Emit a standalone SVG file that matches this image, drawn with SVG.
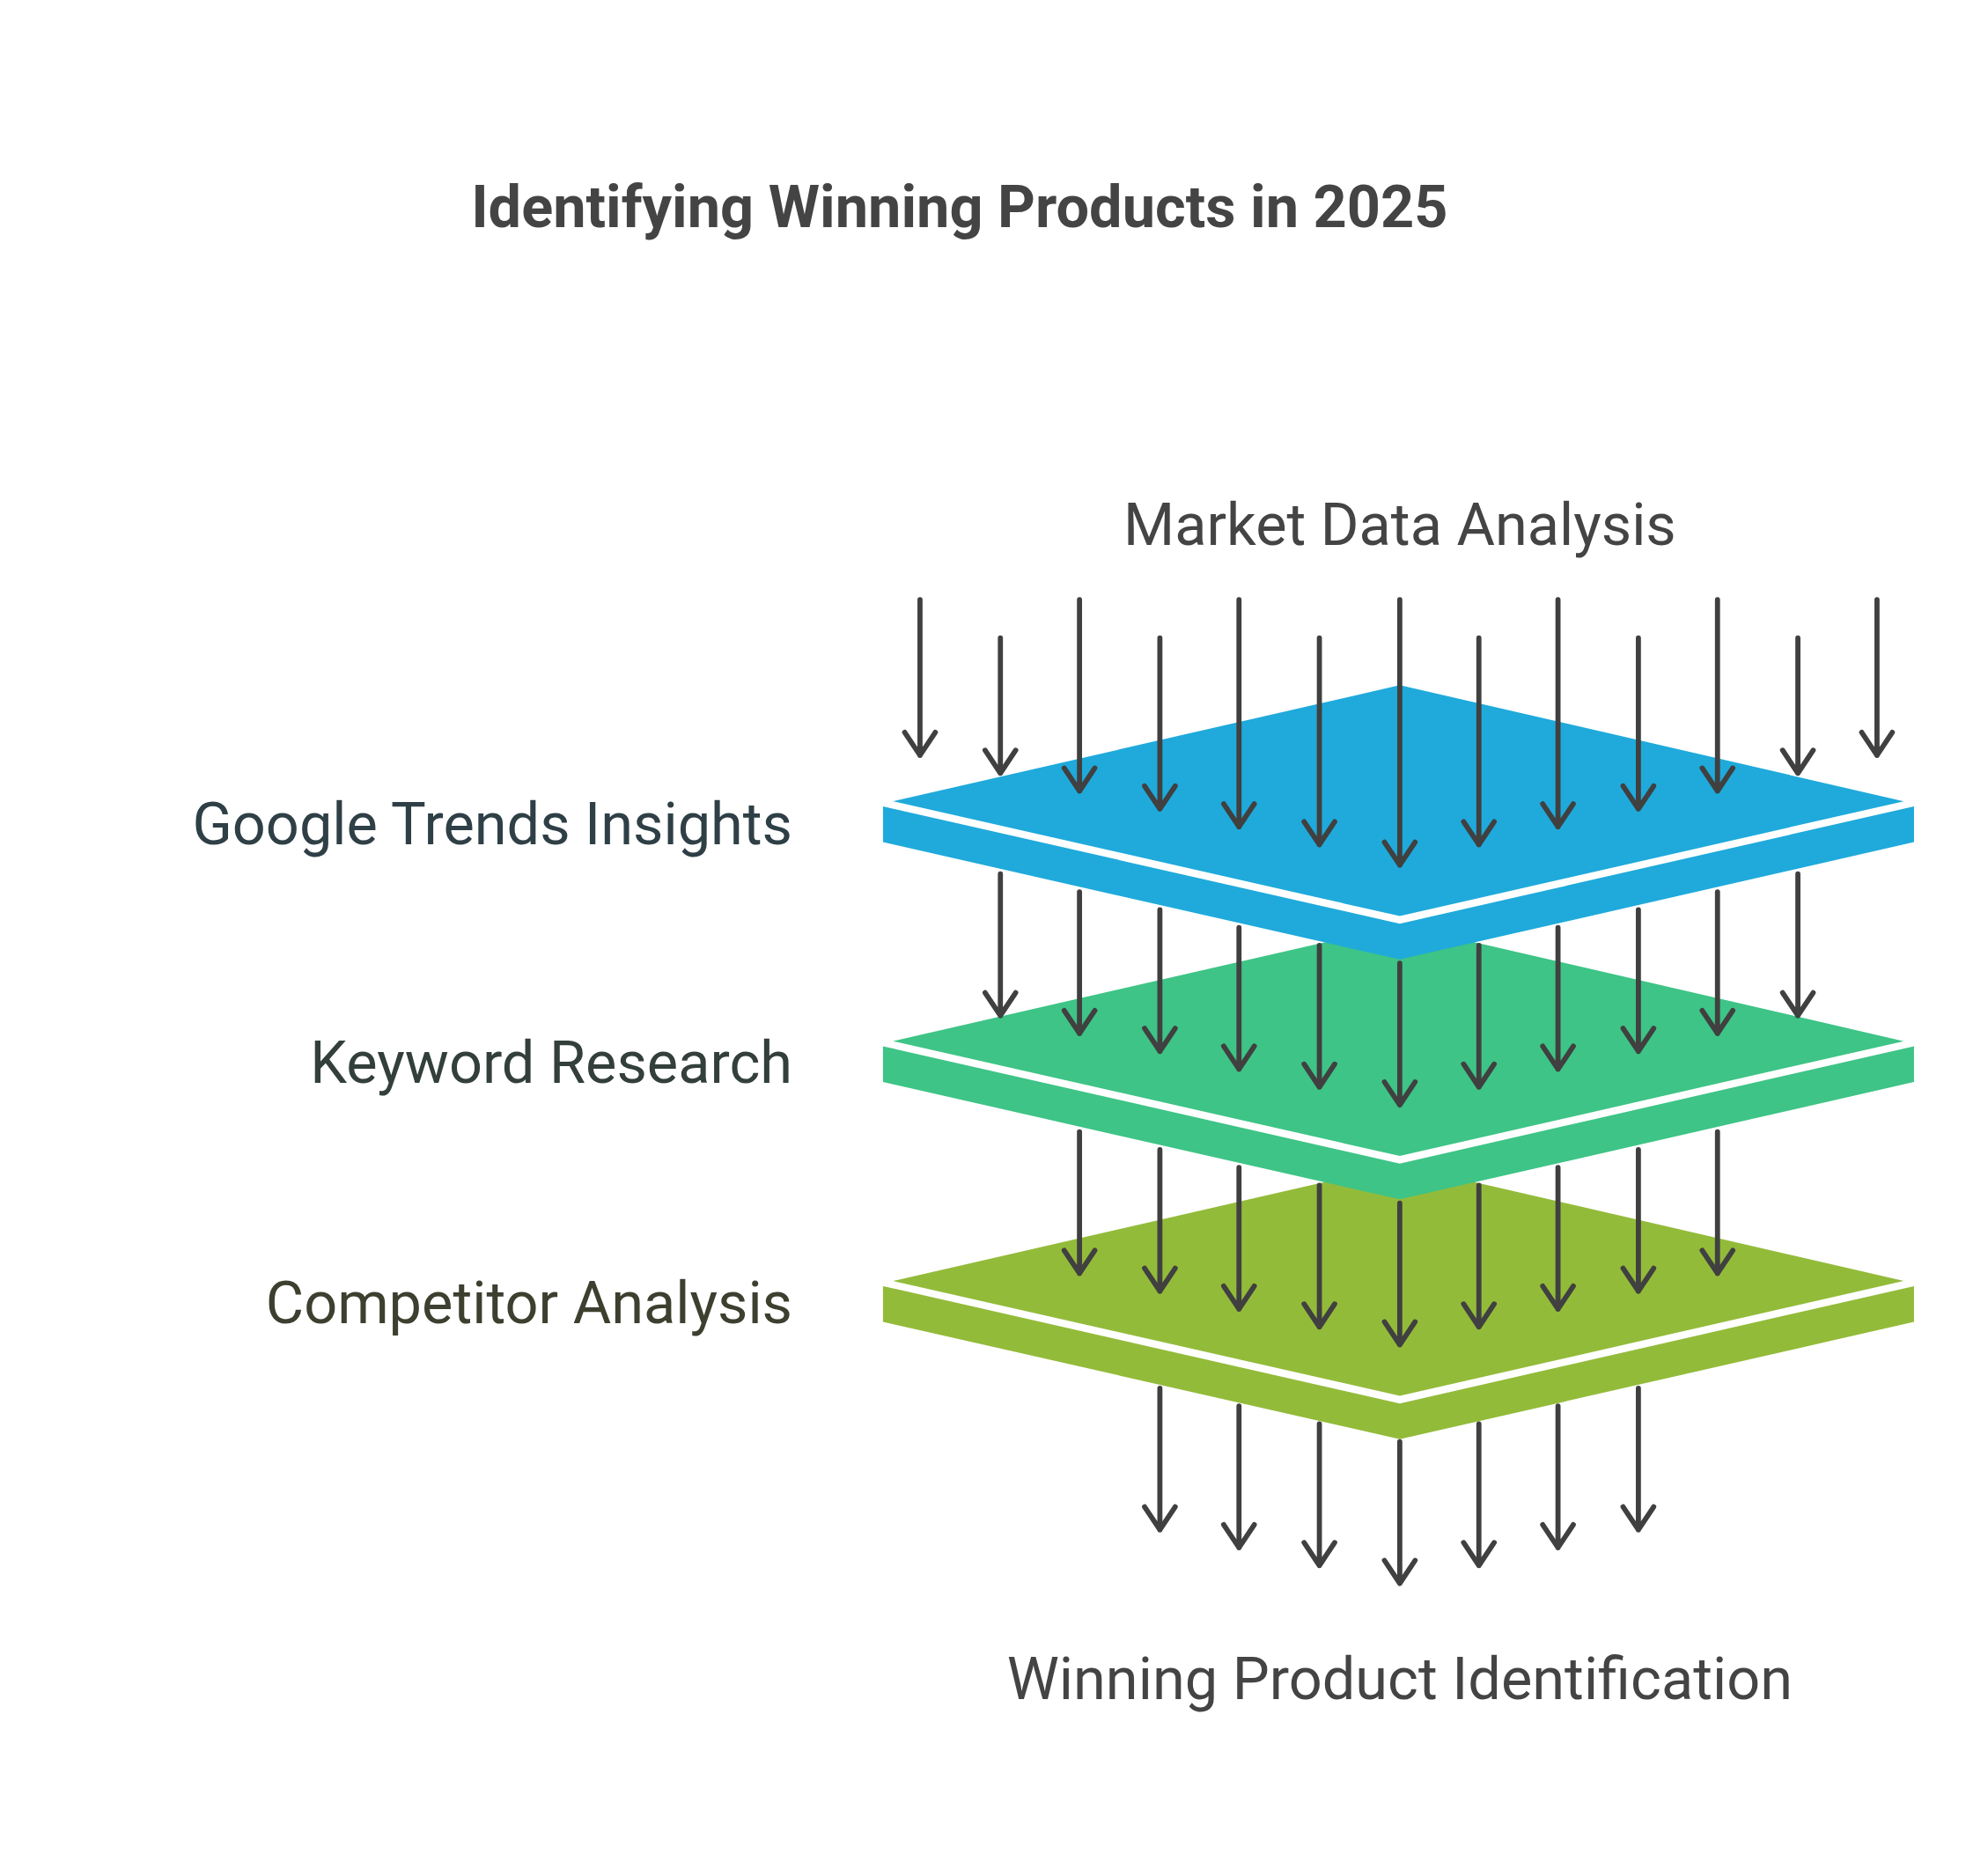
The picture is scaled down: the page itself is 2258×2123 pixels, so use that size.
<svg xmlns="http://www.w3.org/2000/svg" width="2258" height="2123" viewBox="0 0 2258 2123">
<defs>
<style>
.t{font-family:Roboto,"Liberation Sans",sans-serif;font-size:46px;fill:#444}
.a{stroke:#404040;stroke-width:4;fill:none;stroke-linecap:round;stroke-linejoin:round}
</style>
<marker id="h" viewBox="-14 -24 28 26" markerWidth="28" markerHeight="26" refX="0" refY="0" markerUnits="userSpaceOnUse" orient="auto-start-reverse">
</marker>
</defs>
<rect width="2258" height="2123" fill="#fff"/>
<g transform="scale(1.4493)">
<text x="752" y="178" text-anchor="middle" class="t" style="font-weight:bold">Identifying Winning Products in 2025</text>
<g id="layer3">
<polygon points="1097,913 1492,1004 1097,1094 700,1004" fill="#93BB3A"/>
<polygon points="692,1008 1097,1100 1500,1008 1500,1036 1097,1128 692,1036" fill="#93BB3A"/>
<text x="621" y="1037" text-anchor="end" class="t" style="fill:#3D3F2F">Competitor Analysis</text>
</g>
<g id="layer2">
<polygon points="1097,725 1492,816 1097,906 700,816" fill="#3EC486"/>
<polygon points="692,820 1097,912 1500,820 1500,848 1097,940 692,848" fill="#3EC486"/>
<text x="621" y="849" text-anchor="end" class="t" style="fill:#333F3A">Keyword Research</text>
</g>
<g id="layer1">
<polygon points="1097,537 1492,628 1097,718 700,628" fill="#1FAADB"/>
<polygon points="692,632 1097,724 1500,632 1500,660 1097,752 692,660" fill="#1FAADB"/>
<text x="621" y="662" text-anchor="end" class="t" style="fill:#2F3F46">Google Trends Insights</text>
</g>
<text id="top" x="1097" y="427" text-anchor="middle" class="t">Market Data Analysis</text>
<text id="bottom" x="1097" y="1332" text-anchor="middle" class="t">Winning Product Identification</text>
<g id="connectors" class="a">
<path d="M721,470V592M709,574L721,592L733,574"/>
<path d="M784,500V606M772,588L784,606L796,588"/>
<path d="M846,470V620M834,602L846,620L858,602"/>
<path d="M909,500V634M897,616L909,634L921,616"/>
<path d="M971,470V648M959,630L971,648L983,630"/>
<path d="M1034,500V662M1022,644L1034,662L1046,644"/>
<path d="M1097,470V678M1085,660L1097,678L1109,660"/>
<path d="M1159,500V662M1147,644L1159,662L1171,644"/>
<path d="M1221,470V648M1209,630L1221,648L1233,630"/>
<path d="M1284,500V634M1272,616L1284,634L1296,616"/>
<path d="M1346,470V620M1334,602L1346,620L1358,602"/>
<path d="M1409,500V606M1397,588L1409,606L1421,588"/>
<path d="M1471,470V592M1459,574L1471,592L1483,574"/>

<path d="M784,685V796M772,778L784,796L796,778"/>
<path d="M846,699V810M834,792L846,810L858,792"/>
<path d="M909,713V824M897,806L909,824L921,806"/>
<path d="M971,727V838M959,820L971,838L983,820"/>
<path d="M1034,741V852M1022,834L1034,852L1046,834"/>
<path d="M1097,755V866M1085,848L1097,866L1109,848"/>
<path d="M1159,741V852M1147,834L1159,852L1171,834"/>
<path d="M1221,727V838M1209,820L1221,838L1233,820"/>
<path d="M1284,713V824M1272,806L1284,824L1296,806"/>
<path d="M1346,699V810M1334,792L1346,810L1358,792"/>
<path d="M1409,685V796M1397,778L1409,796L1421,778"/>

<path d="M846,887V998M834,980L846,998L858,980"/>
<path d="M909,901V1012M897,994L909,1012L921,994"/>
<path d="M971,915V1026M959,1008L971,1026L983,1008"/>
<path d="M1034,929V1040M1022,1022L1034,1040L1046,1022"/>
<path d="M1097,943V1054M1085,1036L1097,1054L1109,1036"/>
<path d="M1159,929V1040M1147,1022L1159,1040L1171,1022"/>
<path d="M1221,915V1026M1209,1008L1221,1026L1233,1008"/>
<path d="M1284,901V1012M1272,994L1284,1012L1296,994"/>
<path d="M1346,887V998M1334,980L1346,998L1358,980"/>

<path d="M909,1088V1199M897,1181L909,1199L921,1181"/>
<path d="M971,1102V1213M959,1195L971,1213L983,1195"/>
<path d="M1034,1116V1227M1022,1209L1034,1227L1046,1209"/>
<path d="M1097,1130V1241M1085,1223L1097,1241L1109,1223"/>
<path d="M1159,1116V1227M1147,1209L1159,1227L1171,1209"/>
<path d="M1221,1102V1213M1209,1195L1221,1213L1233,1195"/>
<path d="M1284,1088V1199M1272,1181L1284,1199L1296,1181"/>
</g>
</g>
</svg>
